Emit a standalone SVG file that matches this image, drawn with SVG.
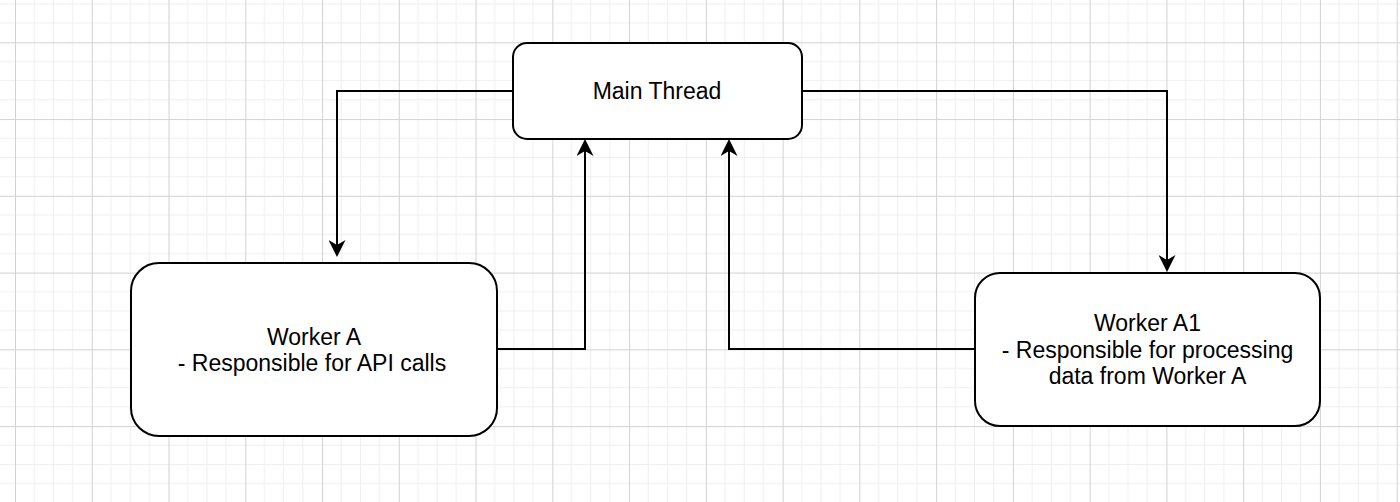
<svg xmlns="http://www.w3.org/2000/svg" width="1400" height="502" viewBox="0 0 1400 502">
  <defs>
    <pattern id="grid" patternUnits="userSpaceOnUse" x="15" y="42.3" width="76.76" height="76.76">
      <g stroke="#efefef" stroke-width="1" fill="none">
        <path d="M19.19,0 V76.76 M38.38,0 V76.76 M57.57,0 V76.76"/>
        <path d="M0,19.19 H76.76 M0,38.38 H76.76 M0,57.57 H76.76"/>
      </g>
      <g stroke="#d2d2d2" stroke-width="1" fill="none">
        <path d="M0.5,0 V76.76 M0,0.5 H76.76"/>
      </g>
    </pattern>
    <marker id="arrow" markerUnits="userSpaceOnUse" viewBox="0 0 17 17" refX="5" refY="8.5" markerWidth="17" markerHeight="17" orient="auto">
      <path d="M17,8.5 L0,0 L5,8.5 L0,17 Z" fill="#000"/>
    </marker>
  </defs>
  <style>
    .node { fill: #ffffff; stroke: #000000; stroke-width: 2; }
    .label { font-family: "Liberation Sans", Arial, Helvetica, sans-serif; font-size: 23px; fill: #000000; text-anchor: middle; }
    .edge { fill: none; stroke: #000000; stroke-width: 2; marker-end: url(#arrow); }
  </style>
  <rect x="0" y="0" width="1400" height="502" fill="#ffffff"/>
  <rect x="0" y="0" width="1400" height="502" fill="url(#grid)"/>

  <g id="connectors">
    <path class="edge" d="M513,91 H337 V245"/>
    <path class="edge" d="M497,349 H585 V151"/>
    <path class="edge" d="M802,91 H1167 V260"/>
    <path class="edge" d="M975,349 H729 V151"/>
  </g>

  <g id="main-thread">
    <rect class="node" x="513" y="43" width="289" height="96" rx="14" ry="14"/>
    <text class="label" x="657" y="99">Main Thread</text>
  </g>

  <g id="worker-a">
    <rect class="node" x="131" y="263" width="366" height="173" rx="28" ry="28"/>
    <text class="label" x="314" y="344.5">Worker A</text>
    <text class="label" x="312" y="371">- Responsible for API calls</text>
  </g>

  <g id="worker-a1">
    <rect class="node" x="975" y="273" width="345" height="153" rx="25" ry="25"/>
    <text class="label" x="1147.5" y="331">Worker A1</text>
    <text class="label" x="1147.5" y="357.5">- Responsible for processing</text>
    <text class="label" x="1147.5" y="384">data from Worker A</text>
  </g>
</svg>
